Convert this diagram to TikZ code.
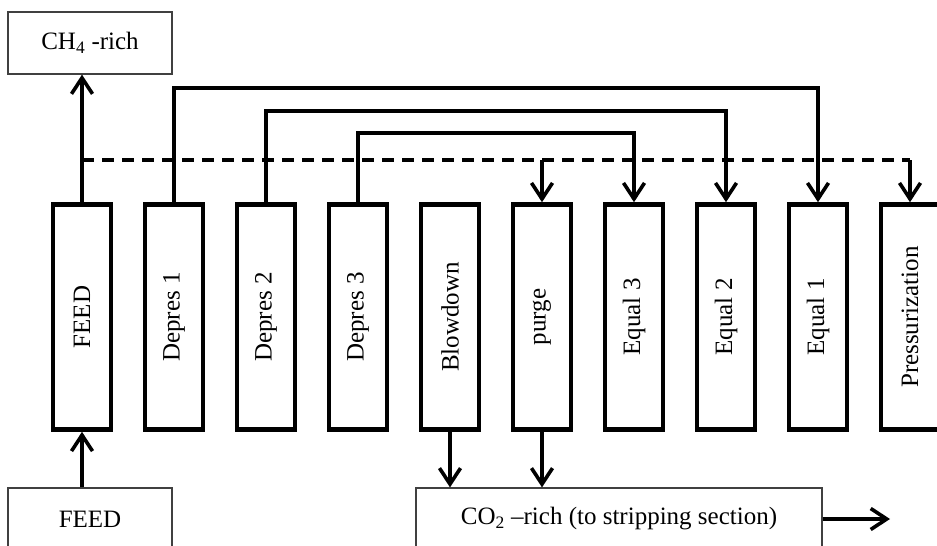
\documentclass[tikz,border=0pt]{standalone}
\usepackage{fontspec}
\setmainfont{Liberation Serif}
\usetikzlibrary{arrows.meta}

\begin{document}
\begin{tikzpicture}[x=1pt, y=-1pt, line width=3.6pt,
	font=\fontsize{25}{30}\selectfont,
	column/.style={draw, line width=4.6pt, minimum width=58pt, minimum height=225pt, inner sep=0pt},
	stream/.style={draw=black!75, line width=1.2pt, minimum height=62pt, inner sep=0pt},
	flow/.style={-{Straight Barb[length=16pt, width=21pt]}}]
	\useasboundingbox (0,0) rectangle (937,546);

	\coordinate (lvl1) at (0,88);
	\coordinate (lvl2) at (0,111);
	\coordinate (lvl3) at (0,133);
	\coordinate (dash) at (0,160);
	\coordinate (outend) at (890,519);

	\foreach \i / \name / \txt in {0/feed/FEED, 1/dep1/Depres 1, 2/dep2/Depres 2, 3/dep3/Depres 3,
		4/blow/Blowdown, 5/purge/purge, 6/eq3/Equal 3, 7/eq2/Equal 2, 8/eq1/Equal 1, 9/press/Pressurization}{
		\node[column] (\name) at (82+92*\i, 317) {\rotatebox{90}{\txt}};}

	\node[stream, minimum width=164pt] (ch4) at (90,43) {CH\textsubscript{4} -rich};
	\node[stream, minimum width=164pt] (feedin) at (90,519) {FEED};
	\node[stream, minimum width=406pt] (co2) at (619,519) {CO\textsubscript{2} –rich (to stripping section)};

	\draw[flow] (feed.north) -- (feed.north |- ch4.south);
	\draw[flow] (feed.south |- feedin.north) -- (feed.south);

		\draw[flow] (dep1.north) -- (dep1.north |- lvl1) -| (eq1.north);
		\draw[flow] (dep2.north) -- (dep2.north |- lvl2) -| (eq2.north);
		\draw[flow] (dep3.north) -- (dep3.north |- lvl3) -| (eq3.north);

	\draw[dashed, dash pattern=on 12pt off 8pt] (feed.north |- dash) -- (press.north |- dash);
	\draw[flow] (purge.north |- dash) -- (purge.north);
	\draw[flow] (press.north |- dash) -- (press.north);

	\draw[flow] (blow.south) -- (blow.south |- co2.north);
	\draw[flow] (purge.south) -- (purge.south |- co2.north);
	\draw[flow] (co2.east) -- (outend);

\end{tikzpicture}
\end{document}
